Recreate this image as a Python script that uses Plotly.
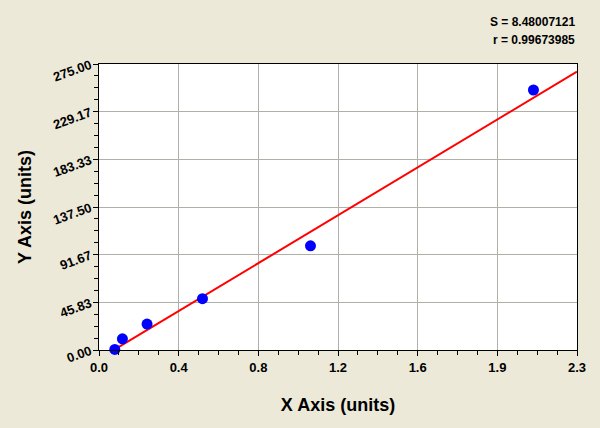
import plotly.graph_objects as go

# Data
x_vals = [0.077, 0.114, 0.234, 0.504, 1.030, 2.116]
y_vals = [0.5, 10.8, 24.9, 49.3, 100.2, 250.0]

# Regression line end points (as drawn in the reference)
fit_x = [0.077, 2.328]
fit_y = [0.6, 267.6]

x_tickvals = [0.0, 0.388, 0.776, 1.164, 1.552, 1.940, 2.328]
x_ticktext = ["0.0", "0.4", "0.8", "1.2", "1.6", "1.9", "2.3"]
y_tickvals = [0.0, 45.8333, 91.6667, 137.5, 183.3333, 229.1667, 275.0]
y_ticktext = ["0.00", "45.83", "91.67", "137.50", "183.33", "229.17", "275.00"]

stats_text = ["S = 8.48007121", "r = 0.99673985"]

FONT = "Arial, Liberation Sans, sans-serif"
BG = "#ECE9D8"

fig = go.Figure()
fig.add_trace(go.Scatter(x=fit_x, y=fit_y, mode="lines",
                         line=dict(color="#FF0000", width=2), showlegend=False,
                         hoverinfo="skip"))
fig.add_trace(go.Scatter(x=x_vals, y=y_vals, mode="markers",
                         marker=dict(color="#0000FF", size=11, line=dict(width=0)),
                         cliponaxis=False, showlegend=False))

axis_common = dict(
    showline=True, linecolor="black", linewidth=1, mirror=True,
    ticks="outside", ticklen=5, tickcolor="black", tickwidth=1,
    showgrid=True, gridcolor="#B0B0A8", gridwidth=1,
    zeroline=False,
    tickfont=dict(family=FONT, size=13, color="black", weight="bold"),
)

fig.update_xaxes(
    **axis_common,
    range=[0, 2.328], tickmode="array", tickvals=x_tickvals, ticktext=x_ticktext,
    minor=dict(ticks="outside", ticklen=4, tickcolor="black", tick0=0, dtick=0.097, showgrid=False),
    title=dict(text="X Axis (units)", font=dict(family=FONT, size=18, color="black", weight="bold"),
               standoff=24),
)
fig.update_yaxes(
    **axis_common,
    range=[0, 275], tickmode="array", tickvals=y_tickvals, ticktext=y_ticktext,
    tickangle=-20,
    minor=dict(ticks="outside", ticklen=4, tickcolor="black", tick0=0, dtick=11.4583, showgrid=False),
    title=dict(text="Y Axis (units)", font=dict(family=FONT, size=18, color="black", weight="bold"),
               standoff=14),
)

fig.add_annotation(text=stats_text[0], xref="paper", yref="paper", x=1.0, y=1.0,
                   xanchor="right", yanchor="middle", yshift=42, showarrow=False,
                   font=dict(family=FONT, size=12, color="black", weight="bold"))
fig.add_annotation(text=stats_text[1], xref="paper", yref="paper", x=1.0, y=1.0,
                   xanchor="right", yanchor="middle", yshift=24, showarrow=False,
                   font=dict(family=FONT, size=12, color="black", weight="bold"))

fig.update_layout(
    width=600, height=428,
    margin=dict(l=99, r=23, t=64, b=78, autoexpand=False),
    paper_bgcolor=BG, plot_bgcolor="white",
    showlegend=False,
)

fig.write_html("out.html", config={"displayModeBar": False},
               post_script="document.body.style.margin='0';document.body.style.background='%s';" % BG)
